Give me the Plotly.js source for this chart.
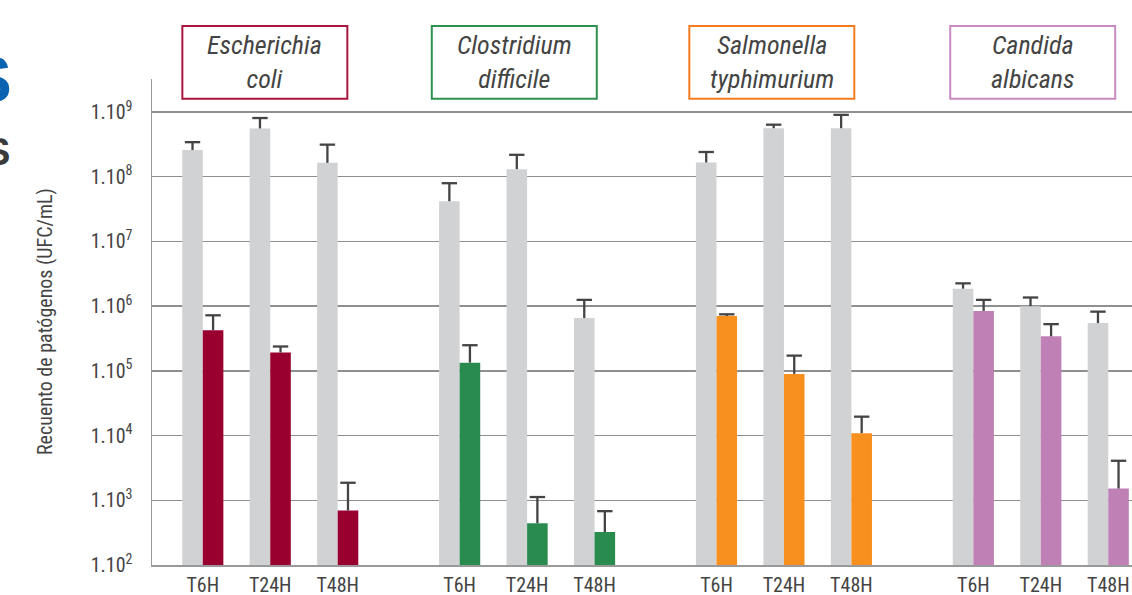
<!DOCTYPE html>
<html>
<head>
<meta charset="utf-8">
<script src="https://cdn.plot.ly/plotly-3.0.1.min.js"></script>
<style>
html,body{margin:0;padding:0;background:#fff;}
#chart{width:1132px;height:595px;}
</style>
</head>
<body>
<div id="chart"></div>
<script>
// ---- data ----
const organisms = ['Escherichia<br>coli', 'Clostridium<br>difficile', 'Salmonella<br>typhimurium', 'Candida<br>albicans'];
const times = ['T6H', 'T24H', 'T48H'];
const organismColors = ['#990030', '#2a8b4f', '#f7901e', '#bf80b6'];
const boxColors = ['#a8163e', '#2e9150', '#f47c20', '#c98ac2'];
const controlColor = '#d1d2d4';

// control (grey) counts, UFC/mL, per organism x time
const controlValues = [2.58e8, 5.57e8, 1.64e8,  4.18e7, 1.31e8, 6.55e5,  1.66e8, 5.62e8, 5.62e8,  1.86e6, 1.0e6, 5.47e5];
const controlErrors = [0.84e8, 2.5e8, 1.49e8,  3.76e7, 0.87e8, 5.95e5,  0.75e8, 0.75e8, 3.42e8,  0.39e6, 0.36e6, 2.75e5];
// treated (coloured) counts
const treatedValues = [4.25e5, 1.92e5, 695,  1.34e5, 443, 324,  7.05e5, 8.98e4, 1.09e4,  8.44e5, 3.42e5, 1517];
const treatedErrors = [2.97e5, 0.46e5, 1171,  1.15e5, 680, 355,  0.43e5, 8.22e4, 0.87e4,  4.06e5, 1.85e5, 2563];

const yTickExponents = [2, 3, 4, 5, 6, 7, 8, 9];

// ---- layout helpers ----
const GROUP_STEP = 3.808;
const BAR_W = 0.305;
const boxShift = [-0.08, -0.19, -0.18, -0.12];
const xs = [], xLabels = [], treatedColors = [];
organisms.forEach((o, g) => {
  times.forEach((t, i) => {
    xs.push(g * GROUP_STEP + i);
    xLabels.push(t);
    treatedColors.push(organismColors[g]);
  });
});

const fam = '"Liberation Sans Narrow", "Arial Narrow", "Roboto Condensed", "DejaVu Sans Condensed", "Liberation Sans", sans-serif';

function errorTraces(xc, vals, errs) {
  const lx = [], ly = [];
  xc.forEach((x, i) => { lx.push(x, x, null); ly.push(vals[i], vals[i] + errs[i], null); });
  return [
    {type: 'scatter', mode: 'lines', x: lx, y: ly, line: {color: '#444', width: 2.3}, hoverinfo: 'none'},
    {type: 'scatter', mode: 'markers', x: xc, y: vals.map((v, i) => v + errs[i]),
     marker: {symbol: 'line-ew', size: 11, line: {color: '#444', width: 2.3}}, hoverinfo: 'none'}
  ];
}

const traces = [
  {type: 'bar', x: xs, y: controlValues, marker: {color: controlColor}, hoverinfo: 'none'},
  {type: 'bar', x: xs, y: treatedValues, marker: {color: treatedColors}, hoverinfo: 'none'}
].concat(
  errorTraces(xs.map(x => x - BAR_W / 2), controlValues, controlErrors),
  errorTraces(xs.map(x => x + BAR_W / 2), treatedValues, treatedErrors)
);

const T = 79, B = 30, L = 152, R = 0, H = 595;
const plotH = H - T - B;
const pxToPaperY = p => (H - B - p) / plotH;
const pxToPaperX = p => (p - L) / (1132 - L - R);

const shapes = [], annotations = [];
organisms.forEach((o, g) => {
  const cx = g * GROUP_STEP + 1 + boxShift[g];
  const hw = 1.223;
  shapes.push({type: 'rect', xref: 'x', yref: 'paper', x0: cx - hw, x1: cx + hw,
    y0: pxToPaperY(98.7), y1: pxToPaperY(26), line: {color: boxColors[g], width: 2}, fillcolor: 'rgba(0,0,0,0)'});
  annotations.push({xref: 'x', yref: 'paper', x: cx, y: pxToPaperY(62), text: '<i>' + o + '</i>',
    showarrow: false, xanchor: 'center', yanchor: 'middle', font: {family: fam, size: 26, color: '#444'}});
});

annotations.push({xref: 'paper', yref: 'paper', x: pxToPaperX(45), y: 0.5, textangle: -90,
  text: 'Recuento de patógenos (UFC/mL)', showarrow: false, xanchor: 'center', yanchor: 'middle',
  font: {family: fam, size: 20, color: '#444'}});
// partial page text cut by the left edge
annotations.push({xref: 'paper', yref: 'paper', x: pxToPaperX(14), y: pxToPaperY(80), text: '<b>S</b>',
  showarrow: false, xanchor: 'right', yanchor: 'middle', font: {family: 'Liberation Sans, sans-serif', size: 64, color: '#0a63b0'}});
annotations.push({xref: 'paper', yref: 'paper', x: pxToPaperX(12), y: pxToPaperY(152), text: '<b>S</b>',
  showarrow: false, xanchor: 'right', yanchor: 'middle', font: {family: 'Liberation Sans, sans-serif', size: 38, color: '#3a3a3a'}});

const layout = {
  width: 1132, height: 595,
  margin: {l: L, r: R, t: T, b: B, pad: 0},
  paper_bgcolor: '#fff', plot_bgcolor: '#fff',
  barmode: 'group', bargap: 1 - 2 * BAR_W, bargroupgap: 0,
  showlegend: false,
  font: {family: fam, color: '#444'},
  xaxis: {
    range: [-0.753, 13.776], tickmode: 'array', tickvals: xs, ticktext: xLabels,
    showgrid: false, zeroline: false, showline: true, linecolor: '#999', linewidth: 1.5,
    ticks: '', ticklabelstandoff: 1, tickfont: {family: fam, size: 20, color: '#444'}, fixedrange: true
  },
  yaxis: {
    type: 'log', range: [2, 9.51], tickmode: 'array',
    tickvals: yTickExponents.map(e => Math.pow(10, e)),
    ticktext: yTickExponents.map(e => '1.10<sup>' + e + '</sup>'),
    showgrid: true, gridcolor: '#8f8f8f', gridwidth: 1.3, zeroline: false,
    showline: true, linecolor: '#999', linewidth: 1.5, ticks: '', ticklabelstandoff: 14,
    tickfont: {family: fam, size: 20, color: '#444'}, fixedrange: true
  },
  shapes: shapes,
  annotations: annotations
};

Plotly.newPlot('chart', traces, layout, {staticPlot: true, displayModeBar: false});
</script>
</body>
</html>
